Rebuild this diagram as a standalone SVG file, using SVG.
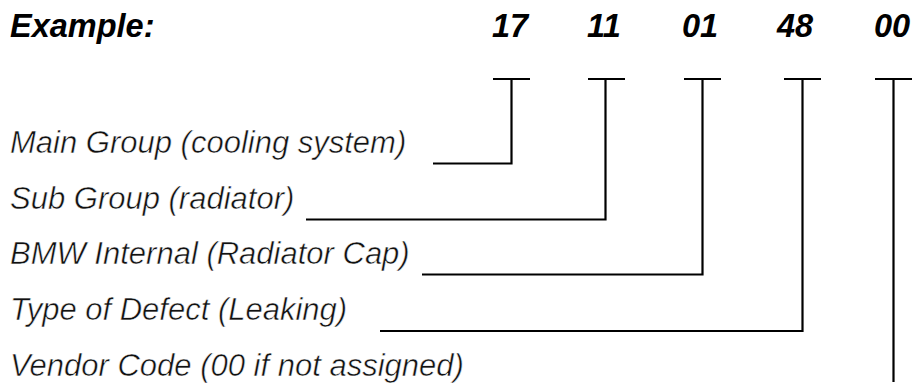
<svg xmlns="http://www.w3.org/2000/svg" width="916" height="385" viewBox="0 0 916 385">
  <style>
    .head { font-family: "Liberation Sans", Arial, sans-serif; font-size: 32.5px; font-weight: bold; font-style: italic; fill: #000; }
    /* light-weight italic look: a thin white outline trims the regular glyphs */
    .label { font-family: "Liberation Sans", Arial, sans-serif; font-size: 31px; font-style: italic; fill: #111; stroke: #fff; stroke-width: 0.5; }
    .wire { fill: none; stroke: #000; stroke-width: 2.2; }
  </style>
  <rect width="916" height="385" fill="#fff"/>

  <!-- Title and code digits -->
  <g id="title"><text class="head" x="10" y="37">Example:</text></g>
  <g id="code-17"><text class="head" x="492" y="37">17</text></g>
  <g id="code-11"><text class="head" x="587" y="37">11</text></g>
  <g id="code-01"><text class="head" x="682" y="37">01</text></g>
  <g id="code-48"><text class="head" x="777" y="37">48</text></g>
  <g id="code-00"><text class="head" x="874" y="37">00</text></g>

  <!-- Field descriptions -->
  <g id="main-group"><text class="label" x="10" y="153">Main Group (cooling system)</text></g>
  <g id="sub-group"><text class="label" x="10" y="209">Sub Group (radiator)</text></g>
  <g id="bmw-internal"><text class="label" x="10" y="264">BMW Internal (Radiator Cap)</text></g>
  <g id="defect-type"><text class="label" x="10" y="320">Type of Defect (Leaking)</text></g>
  <g id="vendor-code"><text class="label" x="10" y="376">Vendor Code (00 if not assigned)</text></g>

  <!-- Leader lines from each digit pair to its description -->
  <g id="connectors" class="wire">
    <path d="M493 79 H530 M511.5 79 V163.5 H433"/>
    <path d="M588 79 H625 M605.5 79 V219.5 H306"/>
    <path d="M684 79 H721 M702.5 79 V274.5 H422"/>
    <path d="M784 79 H821 M802.5 79 V331 H380"/>
    <path d="M875 79 H912 M893.5 79 V382"/>
  </g>
</svg>
